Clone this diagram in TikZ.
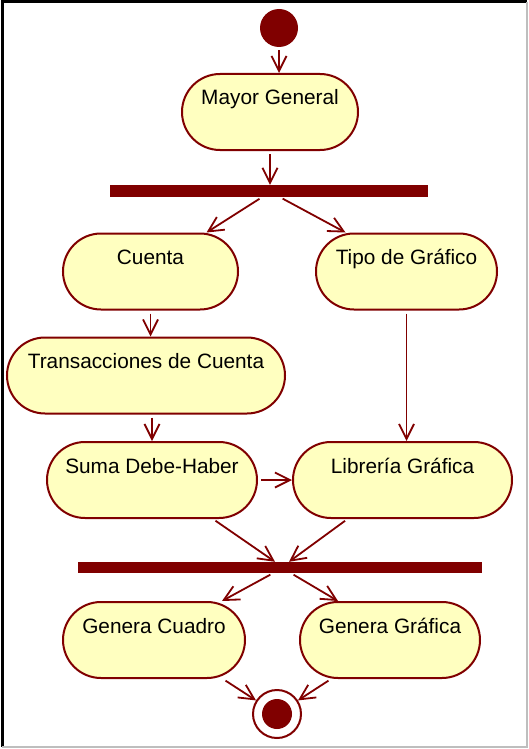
\documentclass[tikz,border=0pt]{standalone}
\usepackage{fontspec}
\setmainfont{Liberation Sans}
\usetikzlibrary{arrows.meta}
\definecolor{DeepRed}{RGB}{128,0,0}
\definecolor{SoftYellow}{RGB}{255,255,192}
\definecolor{FrameGray}{RGB}{190,190,190}
\tikzset{
  activity/.style={draw=DeepRed,line width=2pt,fill=SoftYellow,rounded corners=38pt,text=black,font=\fontsize{20.8}{24}\selectfont,inner xsep=0pt,inner ysep=0pt,text height=31pt,text depth=45pt,minimum height=76pt},
  bar/.style={rectangle,fill=DeepRed,inner sep=0pt,minimum height=12pt},
  startnode/.style={circle,fill=DeepRed,inner sep=0pt,minimum size=38pt},
  endnode/.style={circle,draw=DeepRed,line width=2pt,fill=white,inner sep=0pt,minimum size=48pt,path picture={\fill[DeepRed] (path picture bounding box.center) circle (15pt);}},
  flow/.style={-{Straight Barb[length=15pt,width=15pt]},line width=1.8pt,draw=DeepRed,shorten <=3pt}
}
\begin{document}
\begin{tikzpicture}[x=1pt,y=-1pt]
  \useasboundingbox (0,0) rectangle (528,749);
  \draw[line width=3pt] (2,747) -- (2,2) -- (527,2);
  \draw[FrameGray,line width=1.5pt] (527,2) -- (527,747) -- (2,747);
  \node[startnode] (start) at (279,28) {};
  \node[activity,minimum width=176pt] (mayor) at (270,112) {Mayor General};
  \node[bar,minimum width=318pt] (fork1) at (269,191) {};
  \node[activity,minimum width=175pt] (cuenta) at (150.5,271.5) {Cuenta};
  \node[activity,minimum width=181pt] (tipo) at (406.5,271.5) {Tipo de Gráfico};
  \node[activity,minimum width=278pt] (trans) at (146,375.5) {Transacciones de Cuenta};
  \node[activity,minimum width=210pt] (suma) at (152,480) {Suma Debe-Haber};
  \node[activity,minimum width=219pt] (libreria) at (402.5,480) {Librería Gráfica};
  \node[bar,minimum width=404pt,minimum height=11pt] (fork2) at (280,567.5) {};
  \node[activity,minimum width=182pt] (cuadro) at (154,640) {Genera Cuadro};
  \node[activity,minimum width=180pt] (grafica) at (390,640) {Genera Gráfica};
  \node[endnode] (fin) at (277,714) {};
  \draw[flow] (start) -- (start |- mayor.north);
  \draw[flow] (mayor) -- (mayor |- fork1.north);
  \draw[flow] ([xshift=-7pt]fork1.south) -- ([xshift=56pt]cuenta.north);
  \draw[flow] ([xshift=11pt]fork1.south) -- ([xshift=-61pt]tipo.north);
  \draw[flow] (cuenta) -- (cuenta |- trans.north);
  \draw[flow] (suma |- trans.south) -- (suma.north);
  \draw[flow] (tipo) -- (tipo |- libreria.north);
  \draw[flow] (suma) -- (suma -| libreria.west);
  \draw[flow] ([xshift=61pt]suma.south) -- ([xshift=-5pt]fork2.north);
  \draw[flow] ([xshift=-55pt]libreria.south) -- ([xshift=9pt]fork2.north);
  \draw[flow] ([xshift=-7pt]fork2.south) -- ([xshift=68pt]cuadro.north);
  \draw[flow] ([xshift=11pt]fork2.south) -- ([xshift=-52pt]grafica.north);
  \draw[flow] ([xshift=69pt]cuadro.south) -- (fin);
  \draw[flow] ([xshift=-59pt]grafica.south) -- (fin);
\end{tikzpicture}
\end{document}
